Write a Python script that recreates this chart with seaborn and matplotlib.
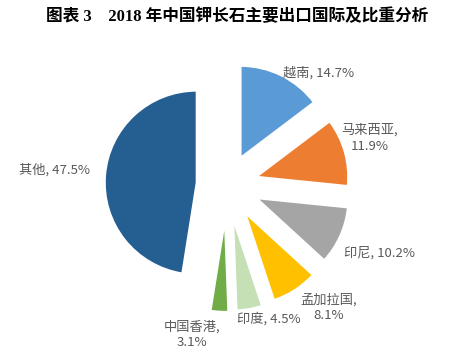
import matplotlib
matplotlib.use("Agg")
import seaborn as sns
from matplotlib import pyplot as plt

# data
countries = ["越南", "马来西亚", "印尼", "孟加拉国", "印度", "中国香港", "其他"]
shares = [14.7, 11.9, 10.2, 8.1, 4.5, 3.1, 47.5]
label_texts = ["越南, 14.7%", "马来西亚,\n11.9%", "印尼, 10.2%", "孟加拉国,\n8.1%",
               "印度, 4.5%", "中国香港,\n3.1%", "其他, 47.5%"]

colors = ["#5B9BD5", "#ED7D31", "#A5A5A5", "#FFC000", "#C5E0B4", "#70AD47", "#255E91"]
explode = [0.33, 0.33, 0.35, 0.36, 0.37, 0.38, 0.33]
# label anchor points (data units, pie radius = 1)
label_pos = [(0.99, 1.22), (1.55, 0.51), (1.66, -0.74), (1.10, -1.33),
             (0.45, -1.45), (-0.38, -1.63), (-1.87, 0.16)]

sns.set_theme(style="white")
plt.rcParams["font.family"] = ["Noto Sans CJK SC", "DejaVu Sans"]

W, H = 463, 356
fig = plt.figure(figsize=(W / 100, H / 100), dpi=100)
ax = fig.add_axes([0, 0, 1, 1])

r_px = 92
cx, cy = 227, 185
ax.pie(shares, colors=colors, explode=explode, startangle=90, counterclock=False,
       radius=1, wedgeprops=dict(edgecolor="white", linewidth=1.5))
ax.set_xlim(-cx / r_px, (W - cx) / r_px)
ax.set_ylim(-(H - cy) / r_px, cy / r_px)
ax.set_aspect("equal")
ax.axis("off")

for txt, (x, y) in zip(label_texts, label_pos):
    ax.text(x, y, txt, ha="center", va="center", fontsize=9.5, color="#595959",
            linespacing=1.25)

fig.text(0.512, 0.952, "图表 3    2018 年中国钾长石主要出口国际及比重分析",
         ha="center", va="center", fontsize=12, fontweight="bold", color="black",
         family=["Liberation Serif", "Noto Sans CJK SC"])

fig.savefig("out.png", dpi=100)
plt.close(fig)
